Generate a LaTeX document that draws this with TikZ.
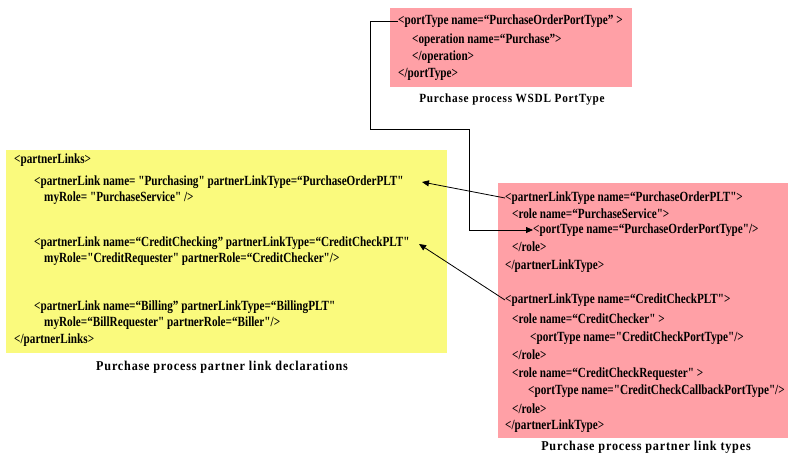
\documentclass[tikz,border=0pt]{standalone}
\usepackage{fontspec}
\setmainfont{Liberation Serif}
\newfontfamily\codefont[FakeStretch=0.80]{Liberation Serif}
\newfontfamily\capfont[FakeStretch=0.9,LetterSpace=6]{Liberation Serif}
\usetikzlibrary{arrows.meta}
\definecolor{pinkbox}{RGB}{255,160,166}
\definecolor{yellowbox}{RGB}{250,250,125}
\tikzset{
  code/.style={anchor=west,inner sep=0pt,font=\codefont\bfseries\fontsize{14}{15}\selectfont},
  captxt/.style={inner sep=0pt,font=\capfont\bfseries\fontsize{13.5}{14}\selectfont},
  link/.style={line width=0.8pt,-{Triangle[length=7pt,width=6pt]}},
}
\begin{document}
\begin{tikzpicture}[x=1pt,y=-1pt]
\useasboundingbox (0,0) rectangle (790,455);
% boxes
\fill[pinkbox] (390,8) rectangle (632,87);
\fill[yellowbox] (6,150) rectangle (447,353);
\fill[pinkbox] (498,183) rectangle (788,438);
% top box
\node[code] (pt1) at (398,21) {<portType name=“PurchaseOrderPortType” >};
\node[code] (pt2) at (412,40) {<operation name=“Purchase”>};
\node[code] (pt3) at (412,57) {</operation>};
\node[code] (pt4) at (398,74) {</portType>};
\node[captxt,font=\capfont\bfseries\fontsize{12.5}{13}\selectfont] (cap1) at (512,100) {Purchase process WSDL PortType};
% yellow box
\node[code] (y1) at (14,160) {<partnerLinks>};
\node[code] (y2) at (34,182) {<partnerLink name= "Purchasing" partnerLinkType=“PurchaseOrderPLT"};
\node[code] (y3) at (44,198) {myRole= "PurchaseService" />};
\node[code] (y4) at (34,243) {<partnerLink name=“CreditChecking” partnerLinkType=“CreditCheckPLT"};
\node[code] (y5) at (44,259) {myRole="CreditRequester" partnerRole=“CreditChecker"/>};
\node[code] (y6) at (34,307) {<partnerLink name=“Billing” partnerLinkType=“BillingPLT"};
\node[code] (y7) at (44,323) {myRole=“BillRequester" partnerRole=“Biller"/>};
\node[code] (y8) at (14,340) {</partnerLinks>};
\node[captxt] (cap2) at (222,367) {Purchase process partner link declarations};
% right box
\node[code] (r1) at (505,198) {<partnerLinkType name=“PurchaseOrderPLT">};
\node[code] (r2) at (512,214) {<role name=“PurchaseService">};
\node[code] (r3) at (533,230) {<portType name=“PurchaseOrderPortType"/>};
\node[code] (r4) at (512,247) {</role>};
\node[code] (r5) at (505,266) {</partnerLinkType>};
\node[code] (r6) at (505,300) {<partnerLinkType name=“CreditCheckPLT">};
\node[code] (r7) at (512,319) {<role name=“CreditChecker" >};
\node[code] (r8) at (530,338) {<portType name="CreditCheckPortType"/>};
\node[code] (r9) at (512,355) {</role>};
\node[code] (r10) at (512,374) {<role name=“CreditCheckRequester" >};
\node[code] (r11) at (528,391) {<portType name="CreditCheckCallbackPortType"/>};
\node[code] (r12) at (512,409) {</role>};
\node[code] (r13) at (505,426) {</partnerLinkType>};
\node[captxt] (cap3) at (646,447) {Purchase process partner link types};
% connectors
\coordinate (t1) at (422,182);
\coordinate (t2) at (419,244);
\draw[link] (r1.west) -- (t1);
\draw[link] (r6.west) -- (t2);
\draw[link] (pt1.west) -- (370,21) |- (469,129) |- (r3.west);
\end{tikzpicture}
\end{document}
